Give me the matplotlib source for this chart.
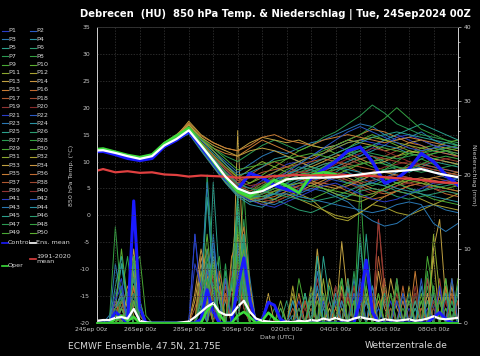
import numpy as np
import matplotlib.pyplot as plt
from matplotlib.lines import Line2D
from matplotlib.ticker import MultipleLocator

plt.rcParams['axes.unicode_minus'] = False

# forecast hours of the 24Sep2024 00Z run
hours_t = np.arange(0, 361, 12)
hours_p = np.arange(6, 361, 6)

tick_hours = [48, 96, 144, 192, 240, 288, 336]
tick_labels = ['26Sep 00z', '28Sep 00z', '30Sep 00z', '02Oct 00z',
               '04Oct 00z', '06Oct 00z', '08Oct 00z']

# 850 hPa temperature (deg C), 12-hourly
ens_mean_t = [12.0, 12.1, 11.6, 11.0, 10.5, 11.0, 13.0, 14.2, 15.8, 13.0,
              10.2, 7.2, 5.0, 4.1, 4.5, 5.6, 6.7, 6.9, 7.0, 7.0, 7.1,
              7.3, 7.6, 7.9, 8.1, 8.2, 8.4, 8.6, 8.0, 7.5, 7.1]
control_t = [11.8, 11.9, 11.3, 10.6, 10.2, 10.6, 12.8, 14.0, 15.6, 12.8,
             9.8, 6.8, 4.8, 7.8, 7.0, 5.6, 4.8, 4.3, 6.9, 8.5, 10.0,
             12.0, 12.7, 10.0, 6.0, 6.8, 8.6, 11.5, 10.0, 7.5, 5.6]
oper_t = [12.2, 12.4, 11.8, 11.2, 10.8, 11.3, 13.4, 14.8, 16.2, 13.2,
          10.0, 7.0, 4.5, 3.5, 5.0, 6.6, 5.5, 4.2, 7.5, 8.0, 7.6]
clim_t = [8.0, 8.6, 8.0, 8.2, 7.9, 8.0, 7.6, 7.5, 7.2, 7.4,
          7.3, 7.2, 7.0, 7.1, 7.1, 7.3, 7.4, 7.5, 7.4, 7.5, 7.4,
          7.5, 7.4, 7.3, 7.1, 6.9, 6.8, 6.6, 6.3, 6.1, 6.0]

members_t = [
    [12.1, 12.2, 11.5, 11.0, 10.4, 11.1, 13.2, 14.5, 16.0, 13.5, 11.0, 8.5, 6.0, 5.0, 6.5, 8.0, 9.5, 10.0, 11.0, 12.5, 13.0, 12.0, 11.0, 12.5, 14.0, 15.0, 14.0, 13.0, 12.0, 11.5, 11.0],
    [11.9, 12.0, 11.7, 11.1, 10.6, 10.9, 12.8, 14.0, 15.5, 12.5, 9.5, 6.5, 4.0, 3.0, 4.0, 5.5, 6.0, 5.0, 4.5, 6.0, 7.5, 8.0, 7.0, 6.0, 5.5, 7.0, 8.5, 9.0, 8.0, 7.0, 6.5],
    [12.2, 12.3, 11.6, 10.9, 10.5, 11.2, 13.3, 14.6, 16.3, 14.0, 12.0, 10.0, 8.0, 9.5, 11.0, 12.0, 11.5, 12.5, 13.5, 14.0, 15.0, 16.0, 17.0, 16.5, 15.0, 14.0, 14.5, 15.5, 14.0, 13.0, 12.5],
    [11.8, 11.9, 11.4, 10.8, 10.3, 10.8, 12.6, 13.9, 15.2, 12.0, 9.0, 6.0, 3.5, 2.0, 1.5, 3.0, 4.5, 5.5, 6.0, 5.0, 4.0, 3.5, 5.0, 6.5, 7.0, 6.0, 5.0, 4.5, 5.5, 6.0, 7.0],
    [12.0, 12.1, 11.6, 11.0, 10.5, 11.0, 13.0, 14.3, 15.9, 13.2, 10.5, 7.5, 5.0, 4.0, 5.0, 6.0, 7.5, 9.0, 8.5, 7.5, 8.0, 9.5, 10.5, 11.0, 10.0, 9.0, 8.0, 9.0, 10.0, 9.5, 9.0],
    [12.1, 12.0, 11.5, 11.1, 10.6, 11.1, 13.1, 14.2, 15.7, 12.8, 10.0, 7.0, 4.5, 3.5, 3.0, 4.0, 6.0, 7.5, 8.0, 9.0, 10.5, 11.5, 12.0, 11.0, 9.5, 8.5, 9.0, 10.5, 11.5, 12.0, 11.0],
    [12.3, 12.4, 11.8, 11.2, 10.7, 11.3, 13.5, 15.0, 17.0, 14.5, 12.5, 11.0, 10.0, 11.5, 13.0, 14.0, 13.0, 12.0, 13.0, 14.5, 15.5, 17.0, 18.5, 20.5, 19.0, 17.0, 16.0, 15.0, 14.5, 14.0, 13.5],
    [11.9, 12.0, 11.4, 10.9, 10.4, 10.9, 12.9, 14.1, 15.6, 12.6, 9.8, 6.8, 4.2, 3.2, 4.5, 6.5, 8.0, 7.0, 6.0, 7.5, 9.0, 8.0, 6.5, 5.5, 6.5, 8.0, 9.5, 10.5, 9.5, 8.0, 7.5],
    [12.0, 12.2, 11.6, 11.0, 10.5, 11.0, 13.1, 14.4, 16.1, 13.4, 10.8, 8.0, 5.5, 4.5, 6.0, 7.5, 7.0, 6.5, 7.5, 9.0, 10.0, 11.0, 10.0, 9.0, 8.5, 10.0, 11.5, 12.5, 13.0, 12.0, 11.0],
    [12.2, 12.1, 11.7, 11.1, 10.6, 11.2, 13.2, 14.3, 15.9, 13.0, 10.2, 7.2, 5.2, 6.0, 7.5, 9.0, 10.5, 12.0, 13.0, 12.5, 11.5, 12.5, 14.0, 15.0, 14.0, 13.0, 12.0, 11.5, 12.5, 13.5, 14.0],
    [12.1, 12.3, 11.8, 11.2, 10.7, 11.1, 13.0, 14.6, 16.8, 14.2, 12.0, 9.5, 7.0, 8.5, 10.0, 9.0, 8.0, 7.0, 6.0, 5.0, 4.0, 3.0, 2.5, 3.5, 5.0, 6.0, 7.0, 6.5, 5.5, 5.0, 4.5],
    [11.8, 11.9, 11.5, 10.9, 10.4, 10.8, 12.7, 14.0, 15.4, 12.3, 9.2, 6.2, 3.8, 2.5, 3.0, 4.5, 5.0, 4.0, 3.0, 1.0, -0.5, -1.0, 0.5, 2.0, 1.5, 0.5, 0.0, 1.0, 2.0, 3.0, 4.0],
    [12.0, 12.0, 11.6, 11.0, 10.5, 11.0, 13.0, 14.7, 17.5, 15.0, 13.5, 12.5, 12.0, 13.5, 14.5, 14.0, 13.5, 14.0, 13.0, 12.5, 13.0, 14.0, 13.5, 13.0, 12.0, 12.5, 13.5, 14.0, 13.0, 12.5, 12.0],
    [12.2, 12.2, 11.7, 11.1, 10.6, 11.1, 13.0, 14.3, 15.8, 13.0, 10.0, 7.0, 4.5, 3.0, 2.0, 2.5, 3.5, 4.5, 5.5, 6.5, 7.5, 7.0, 6.0, 5.0, 4.5, 5.5, 6.5, 7.0, 6.5, 6.0, 5.5],
    [12.0, 12.1, 11.5, 11.0, 10.5, 11.2, 13.4, 14.8, 17.0, 14.0, 12.5, 11.5, 11.0, 12.5, 14.0, 13.0, 12.0, 11.0, 10.5, 11.5, 13.0, 14.0, 15.0, 16.0, 15.5, 14.5, 13.5, 13.0, 12.0, 11.5, 11.0],
    [11.9, 12.0, 11.5, 10.9, 10.4, 10.9, 12.8, 14.0, 15.5, 12.5, 9.5, 6.5, 4.0, 3.5, 4.0, 5.0, 5.5, 6.0, 7.0, 8.0, 7.5, 6.5, 5.5, 4.5, 4.0, 4.5, 5.5, 6.0, 5.0, 4.0, 3.5],
    [12.1, 12.2, 11.6, 11.0, 10.5, 11.0, 13.1, 14.4, 16.0, 13.2, 10.5, 8.0, 6.0, 7.5, 9.0, 10.0, 9.0, 8.0, 8.5, 9.5, 10.0, 9.0, 8.0, 7.5, 7.0, 6.5, 6.0, 6.5, 7.0, 6.5, 6.0],
    [12.0, 12.1, 11.6, 11.0, 10.5, 11.0, 12.9, 14.2, 15.7, 12.9, 10.0, 7.5, 5.5, 4.5, 5.5, 7.0, 8.0, 8.5, 9.5, 10.5, 11.5, 10.5, 9.5, 10.0, 11.0, 12.0, 13.0, 12.0, 11.0, 10.5, 10.0],
    [12.2, 12.3, 11.7, 11.1, 10.6, 11.1, 13.2, 14.5, 16.2, 13.6, 11.0, 8.8, 6.5, 5.5, 6.0, 6.5, 5.5, 4.5, 5.0, 6.0, 7.0, 6.0, 5.0, 4.0, 4.5, 5.5, 6.0, 5.5, 5.0, 4.5, 4.0],
    [11.9, 12.0, 11.5, 11.0, 10.4, 10.9, 12.8, 14.1, 15.6, 12.6, 9.6, 6.6, 4.4, 3.8, 5.0, 6.0, 7.0, 6.5, 6.0, 7.0, 8.0, 7.5, 7.0, 8.0, 9.0, 9.5, 10.0, 9.0, 8.5, 8.0, 7.5],
    [12.0, 12.1, 11.6, 11.0, 10.5, 11.0, 13.0, 14.2, 15.8, 13.1, 10.3, 7.3, 4.8, 3.8, 4.8, 6.0, 7.5, 8.5, 10.0, 11.5, 12.5, 13.5, 14.0, 13.5, 13.0, 14.5, 15.0, 14.0, 13.0, 12.0, 11.5],
    [12.1, 12.2, 11.7, 11.1, 10.6, 11.0, 13.1, 14.3, 15.9, 13.0, 10.1, 7.1, 4.6, 3.6, 3.5, 4.0, 5.0, 6.0, 6.5, 7.0, 6.5, 6.0, 5.5, 6.0, 7.0, 8.0, 9.0, 9.5, 9.0, 8.5, 8.0],
    [11.9, 12.0, 11.5, 10.9, 10.4, 10.9, 12.9, 14.1, 15.6, 12.8, 9.8, 6.8, 4.3, 3.3, 2.5, 2.0, 3.0, 4.0, 5.0, 4.5, 3.5, 2.5, 0.5, -1.0, -2.0, -1.5, 0.0, 1.5, 2.0, 1.0, 0.5],
    [12.2, 12.3, 11.8, 11.2, 10.7, 11.2, 13.3, 14.6, 16.4, 14.0, 11.5, 9.5, 7.5, 8.0, 9.0, 10.5, 11.0, 10.0, 9.0, 8.5, 9.0, 10.0, 11.0, 12.0, 13.0, 12.5, 11.5, 11.0, 10.5, 10.0, 9.5],
    [12.0, 12.0, 11.6, 11.0, 10.5, 11.0, 13.0, 14.2, 15.8, 13.0, 10.2, 7.2, 4.7, 3.7, 4.5, 5.5, 6.5, 7.5, 8.5, 9.5, 10.0, 11.0, 12.0, 13.0, 14.0, 15.0, 16.0, 17.0, 16.0, 15.0, 14.0],
    [12.1, 12.2, 11.6, 11.0, 10.5, 11.1, 13.1, 14.4, 16.0, 13.3, 10.6, 7.8, 5.2, 4.2, 3.5, 3.0, 2.0, 1.0, 0.5, 1.5, 2.5, 3.5, 4.5, 5.0, 4.5, 3.5, 3.0, 3.5, 4.0, 4.5, 4.0],
    [11.8, 11.9, 11.4, 10.8, 10.3, 10.8, 12.7, 14.0, 15.4, 12.4, 9.4, 6.4, 4.0, 3.5, 4.5, 6.0, 7.0, 8.0, 9.0, 8.0, 7.0, 6.0, 6.5, 7.5, 8.5, 9.0, 8.5, 8.0, 8.5, 9.0, 9.5],
    [12.0, 12.1, 11.5, 11.0, 10.5, 11.0, 13.0, 14.3, 15.9, 13.2, 10.4, 7.6, 5.1, 4.1, 5.5, 7.0, 8.5, 9.5, 11.0, 12.0, 13.0, 14.0, 15.0, 16.5, 18.0, 20.0, 18.0, 16.0, 15.0, 14.0, 13.0],
    [12.2, 12.2, 11.7, 11.1, 10.6, 11.1, 13.1, 14.3, 15.8, 12.9, 9.9, 6.9, 4.4, 3.4, 4.0, 5.0, 4.5, 3.5, 3.0, 4.0, 5.0, 6.0, 7.0, 7.5, 7.0, 6.0, 5.0, 4.0, 3.0, 2.5, 2.0],
    [12.0, 12.1, 11.6, 11.0, 10.5, 11.0, 13.0, 14.2, 15.7, 12.9, 10.1, 7.0, 4.5, 3.5, 4.5, 6.0, 7.0, 8.0, 7.5, 7.0, 7.5, 8.5, 9.5, 10.0, 10.5, 11.0, 11.5, 12.0, 12.5, 12.0, 11.5],
    [12.1, 12.2, 11.7, 11.1, 10.6, 11.2, 13.2, 14.5, 16.2, 13.6, 11.2, 9.0, 7.0, 6.0, 7.0, 8.0, 9.0, 10.0, 11.0, 11.5, 12.5, 13.5, 14.0, 14.5, 14.0, 13.5, 13.0, 12.5, 12.0, 12.5, 13.0],
    [11.9, 12.0, 11.5, 10.9, 10.4, 10.9, 12.8, 14.1, 15.6, 12.7, 9.7, 6.7, 4.2, 3.0, 2.5, 3.0, 4.0, 3.0, 2.0, 1.0, 0.0, -0.5, 0.5, 2.0, 3.5, 4.5, 4.0, 3.0, 2.0, 1.5, 1.0],
    [12.0, 12.1, 11.6, 11.0, 10.5, 11.1, 13.3, 14.8, 16.8, 14.5, 13.0, 12.0, 11.0, 12.0, 12.5, 12.0, 11.0, 10.0, 9.0, 10.0, 11.0, 11.5, 10.5, 9.5, 10.0, 11.0, 12.0, 11.5, 10.5, 10.0, 9.5],
    [12.2, 12.2, 11.6, 11.0, 10.5, 11.0, 13.0, 14.3, 15.9, 13.1, 10.3, 7.3, 4.8, 3.8, 4.5, 5.5, 6.5, 7.0, 6.5, 5.5, 5.0, 5.5, 6.5, 7.5, 8.0, 7.5, 7.0, 6.5, 7.0, 7.5, 8.0],
    [12.1, 12.3, 11.8, 11.2, 10.7, 11.3, 13.5, 15.0, 17.2, 14.8, 13.5, 12.5, 12.0, 13.0, 14.5, 15.0, 14.0, 13.5, 13.0, 14.0, 14.5, 15.0, 14.5, 14.0, 13.5, 14.0, 14.5, 14.0, 13.5, 13.0, 12.5],
    [11.9, 12.0, 11.5, 10.9, 10.4, 10.9, 12.9, 14.1, 15.6, 12.7, 9.7, 6.7, 4.2, 3.2, 3.0, 3.5, 4.5, 5.5, 6.0, 6.0, 5.5, 4.5, 3.5, 3.0, 3.5, 4.5, 5.5, 6.0, 5.5, 5.0, 4.5],
    [12.0, 12.1, 11.6, 11.0, 10.5, 11.0, 13.0, 14.4, 16.2, 13.5, 11.0, 8.5, 6.5, 7.0, 8.0, 8.5, 9.0, 9.5, 10.0, 10.5, 10.0, 9.5, 9.0, 8.5, 8.0, 8.5, 9.0, 9.5, 9.0, 8.5, 8.0],
    [12.1, 12.2, 11.7, 11.1, 10.6, 11.1, 13.1, 14.2, 15.7, 12.8, 9.8, 6.8, 4.3, 3.3, 4.0, 4.5, 5.0, 5.5, 6.5, 7.5, 8.5, 9.5, 10.5, 11.0, 10.5, 10.0, 9.5, 9.0, 8.5, 8.0, 7.5],
    [12.0, 12.0, 11.5, 10.9, 10.4, 10.9, 12.9, 14.2, 15.8, 13.0, 10.2, 7.5, 5.5, 5.0, 6.0, 7.0, 7.5, 8.0, 8.0, 7.5, 7.0, 6.5, 6.0, 6.5, 7.0, 7.5, 7.0, 6.5, 6.0, 6.0, 5.5],
    [12.2, 12.3, 11.7, 11.1, 10.6, 11.2, 13.2, 14.4, 16.0, 13.2, 10.4, 7.4, 4.9, 3.9, 3.0, 2.5, 3.5, 5.0, 6.5, 8.0, 9.5, 10.5, 11.5, 12.5, 12.0, 11.0, 10.0, 9.5, 10.0, 10.5, 11.0],
    [11.9, 12.0, 11.5, 11.0, 10.4, 10.9, 12.8, 14.0, 15.5, 12.5, 9.5, 6.5, 4.0, 2.8, 2.0, 1.5, 2.5, 3.5, 4.5, 5.5, 6.0, 5.0, 4.0, 3.0, 2.5, 3.0, 4.0, 5.0, 6.0, 6.5, 7.0],
    [12.0, 12.1, 11.6, 11.0, 10.5, 11.0, 13.0, 14.3, 15.9, 13.1, 10.3, 7.3, 4.8, 3.8, 5.0, 6.5, 8.0, 9.5, 11.0, 12.5, 14.0, 15.5, 16.5, 15.5, 14.5, 13.5, 12.5, 12.0, 12.5, 13.0, 12.5],
    [12.1, 12.2, 11.6, 11.1, 10.6, 11.1, 13.1, 14.3, 15.8, 13.0, 10.0, 7.0, 4.5, 3.5, 3.5, 4.0, 4.0, 3.5, 3.0, 2.5, 2.0, 1.5, 1.0, 0.5, 1.0, 2.0, 2.5, 2.0, -1.5, -3.0, -1.5],
    [11.8, 11.9, 11.4, 10.8, 10.3, 10.8, 12.7, 13.9, 15.3, 12.3, 9.3, 6.3, 3.8, 2.5, 3.0, 4.0, 5.5, 6.5, 7.5, 8.5, 9.0, 8.5, 8.0, 7.0, 6.0, 5.0, 4.5, 4.0, 3.5, 3.0, 2.5],
    [12.0, 12.1, 11.6, 11.0, 10.5, 11.0, 13.0, 14.2, 15.8, 13.0, 10.2, 7.2, 4.8, 4.0, 5.0, 6.5, 7.5, 8.5, 9.5, 10.5, 11.5, 12.5, 13.5, 14.5, 15.0, 15.5, 15.0, 14.5, 14.0, 13.5, 13.0],
    [12.2, 12.3, 11.7, 11.2, 10.7, 11.2, 13.2, 14.5, 16.1, 13.4, 10.6, 8.0, 5.8, 5.0, 4.5, 4.0, 3.5, 3.0, 2.5, 3.0, 3.5, 4.5, 5.5, 6.0, 5.5, 4.5, 4.0, 4.5, 5.0, 5.5, 6.0],
    [12.0, 12.0, 11.5, 10.9, 10.4, 10.9, 12.9, 14.1, 15.7, 12.8, 9.8, 6.8, 4.3, 3.3, 4.0, 5.0, 6.0, 7.0, 8.0, 9.0, 10.0, 11.0, 12.0, 11.5, 11.0, 10.5, 11.0, 11.5, 12.0, 12.5, 13.0],
    [12.1, 12.2, 11.6, 11.0, 10.5, 11.1, 13.1, 14.3, 15.9, 13.1, 10.3, 7.3, 4.8, 3.8, 4.5, 5.5, 6.5, 7.0, 7.5, 8.0, 8.5, 9.0, 9.5, 10.0, 9.5, 9.0, 8.5, 9.5, 10.5, 11.0, 10.5],
    [12.0, 12.1, 11.6, 11.0, 10.5, 11.0, 13.0, 14.5, 16.5, 14.2, 12.5, 10.5, 8.5, 9.0, 9.5, 10.0, 10.5, 11.0, 11.5, 11.0, 10.5, 11.5, 12.5, 13.0, 12.5, 12.0, 11.5, 11.0, 11.5, 12.0, 12.5],
    [11.9, 12.0, 11.5, 10.9, 10.4, 10.9, 12.8, 14.0, 15.5, 12.6, 9.6, 6.6, 4.1, 3.1, 3.5, 4.5, 5.5, 6.0, 5.5, 5.0, 4.5, 4.0, 3.5, 4.0, 5.0, 6.0, 6.5, 6.0, 5.5, 5.0, 5.5],
]

# 6-hourly precipitation (mm), ens. mean as full series
ens_mean_p = [0.3, 0.4, 0.4, 0.7, 0.8, 0.6, 1.9, 0.3, 0.1, 0.0,
              0.0, 0.0, 0.0, 0.0, 0.1, 0.2, 0.8, 1.5, 2.2, 2.7,
              1.5, 1.1, 1.1, 2.2, 3.0, 1.5, 0.6, 0.3, 0.2, 0.1,
              0.1, 0.2, 0.1, 0.3, 0.2, 0.4, 0.3, 0.6, 0.4, 0.7,
              0.4, 0.3, 0.6, 0.8, 0.6, 0.5, 0.3, 0.5, 0.4, 0.3,
              0.4, 0.5, 0.3, 0.4, 0.6, 0.9, 0.6, 0.5, 0.6, 0.7]

# other runs: (hour, mm) for the non-zero 6h steps
control_p = [(24, 1.5), (30, 0.8), (42, 16.5), (48, 2.0), (108, 0.5), (114, 4.5),
             (120, 1.5), (144, 5.0), (150, 8.8), (156, 3.0), (168, 0.5), (174, 2.8),
             (180, 2.4), (186, 0.5), (264, 3.0), (270, 8.5), (276, 1.5), (336, 0.8),
             (342, 1.4), (348, 0.5)]
oper_p = [(24, 0.5), (30, 1.0), (36, 0.3), (42, 0.8), (114, 1.7), (120, 2.7),
          (126, 1.2), (144, 1.0), (150, 1.5), (156, 0.8), (168, 0.3), (174, 1.4),
          (180, 0.6)]

members_p = [
    [(24, 1), (30, 2), (42, 4), (108, 3), (114, 6), (120, 4), (144, 8), (150, 5), (204, 2), (228, 4), (270, 3), (312, 2), (342, 5)],
    [(30, 3), (36, 1), (42, 2), (102, 12), (108, 4), (138, 6), (144, 3), (150, 7), (198, 1), (240, 5), (246, 2), (300, 3), (330, 6), (336, 2)],
    [(18, 1), (24, 3), (30, 8), (36, 2), (114, 2), (120, 10), (126, 4), (150, 12), (156, 6), (216, 3), (258, 4), (264, 2), (318, 4), (354, 3)],
    [(36, 2), (42, 6), (48, 1), (108, 2), (114, 5), (132, 3), (144, 6), (150, 4), (186, 2), (222, 9), (228, 3), (276, 5), (282, 2), (324, 3)],
    [(24, 2), (30, 8), (36, 3), (120, 19), (126, 6), (138, 5), (144, 9), (150, 3), (210, 4), (234, 2), (264, 6), (306, 3), (348, 4)],
    [(24, 1), (42, 3), (114, 8), (120, 5), (132, 7), (150, 10), (156, 4), (192, 3), (228, 2), (252, 5), (288, 4), (336, 3), (360, 4)],
    [(30, 4), (36, 9), (42, 2), (108, 2), (114, 20), (120, 8), (144, 15), (150, 6), (180, 2), (222, 5), (264, 12), (270, 3), (318, 2), (342, 4)],
    [(24, 13), (30, 3), (42, 5), (48, 1), (120, 6), (126, 9), (144, 4), (150, 18), (156, 5), (240, 3), (246, 6), (294, 2), (330, 5), (354, 2)],
    [(36, 2), (42, 8), (48, 9), (54, 1), (114, 3), (120, 7), (144, 5), (150, 3), (204, 6), (210, 2), (258, 3), (300, 5), (336, 3)],
    [(24, 2), (30, 4), (108, 4), (114, 12), (120, 3), (138, 8), (144, 16), (150, 4), (228, 3), (270, 7), (276, 2), (324, 4), (348, 2)],
    [(30, 1), (42, 5), (120, 4), (126, 6), (144, 9), (150, 2), (186, 3), (216, 5), (246, 2), (282, 4), (330, 3), (354, 6)],
    [(24, 3), (36, 4), (42, 1), (114, 5), (120, 3), (132, 4), (144, 7), (150, 9), (198, 4), (234, 6), (240, 2), (276, 3), (312, 5), (336, 9)],
    [(36, 3), (42, 10), (48, 2), (102, 3), (108, 8), (114, 4), (144, 26), (150, 7), (174, 4), (246, 11), (252, 3), (294, 6), (300, 2), (336, 10), (342, 14), (348, 3)],
    [(24, 1), (42, 7), (108, 9), (114, 5), (132, 6), (150, 8), (156, 3), (222, 4), (258, 3), (288, 6), (324, 2), (354, 5)],
    [(30, 2), (36, 5), (42, 2), (108, 6), (114, 10), (120, 5), (138, 9), (144, 11), (150, 5), (210, 3), (240, 5), (282, 3), (318, 7), (360, 3)],
    [(42, 3), (48, 2), (114, 4), (126, 7), (132, 3), (144, 12), (150, 6), (216, 2), (252, 4), (306, 3), (342, 4)],
    [(24, 2), (30, 1), (102, 2), (108, 5), (120, 9), (126, 3), (150, 10), (156, 4), (198, 2), (234, 3), (282, 14), (288, 4), (330, 3), (348, 5)],
    [(36, 1), (42, 4), (114, 3), (120, 6), (132, 5), (144, 4), (150, 7), (228, 3), (264, 5), (300, 4), (342, 6), (354, 2)],
    [(30, 3), (42, 2), (108, 3), (120, 5), (144, 6), (150, 2), (222, 6), (228, 2), (276, 4), (312, 3), (336, 2)],
    [(24, 2), (42, 5), (114, 6), (120, 4), (138, 7), (150, 6), (210, 2), (246, 4), (270, 3), (318, 5), (348, 3)],
    [(24, 4), (30, 6), (42, 3), (102, 12), (108, 3), (120, 6), (144, 8), (150, 5), (204, 3), (264, 4), (294, 3), (330, 2), (360, 5)],
    [(30, 2), (36, 3), (114, 7), (120, 11), (126, 4), (150, 9), (156, 3), (216, 4), (240, 3), (282, 2), (324, 6)],
    [(24, 8), (30, 3), (42, 2), (108, 5), (114, 19), (120, 5), (144, 10), (150, 4), (222, 7), (228, 2), (258, 6), (306, 4), (342, 3)],
    [(36, 2), (42, 6), (48, 3), (120, 8), (126, 4), (144, 6), (150, 12), (156, 4), (198, 3), (252, 5), (288, 3), (330, 4), (354, 2)],
    [(24, 2), (30, 3), (42, 9), (48, 2), (108, 3), (114, 17), (120, 6), (144, 15), (150, 8), (228, 9), (234, 3), (270, 12), (276, 3), (318, 2), (348, 6)],
    [(24, 1), (36, 2), (114, 4), (120, 7), (138, 5), (150, 11), (156, 3), (204, 2), (246, 6), (264, 3), (312, 4), (336, 5)],
    [(30, 5), (42, 4), (108, 2), (120, 5), (132, 8), (144, 5), (150, 14), (156, 4), (216, 3), (258, 7), (300, 3), (342, 3)],
    [(24, 3), (42, 7), (48, 1), (114, 9), (120, 3), (144, 9), (150, 6), (222, 3), (264, 19), (270, 5), (306, 2), (330, 7), (354, 3)],
    [(36, 1), (42, 3), (108, 4), (120, 6), (144, 18), (150, 5), (186, 2), (240, 4), (276, 3), (318, 4), (348, 2)],
    [(24, 2), (30, 10), (36, 3), (114, 5), (120, 8), (138, 6), (144, 8), (150, 3), (210, 4), (252, 3), (288, 5), (324, 3), (360, 6)],
    [(30, 3), (42, 7), (48, 2), (108, 7), (114, 3), (132, 4), (150, 9), (156, 4), (228, 6), (246, 3), (294, 4), (336, 12), (342, 4)],
    [(24, 1), (42, 2), (114, 6), (120, 9), (126, 3), (144, 7), (150, 4), (198, 5), (234, 2), (270, 4), (312, 3), (354, 4)],
    [(36, 4), (42, 8), (48, 2), (108, 3), (120, 4), (144, 12), (150, 8), (222, 10), (228, 3), (264, 3), (300, 6), (336, 4)],
    [(24, 2), (30, 4), (102, 4), (108, 10), (114, 6), (138, 5), (150, 6), (216, 3), (246, 5), (282, 7), (288, 2), (330, 4)],
    [(30, 2), (42, 5), (114, 7), (120, 4), (144, 9), (150, 13), (156, 5), (204, 4), (252, 6), (276, 3), (318, 3), (348, 5)],
    [(24, 3), (36, 2), (114, 3), (126, 5), (144, 5), (150, 8), (240, 2), (264, 4), (306, 5), (342, 3)],
    [(42, 3), (48, 1), (108, 5), (120, 7), (132, 4), (144, 6), (150, 4), (228, 4), (270, 3), (282, 9), (288, 3), (324, 2), (354, 4)],
    [(24, 1), (30, 3), (114, 5), (120, 3), (144, 8), (150, 6), (210, 3), (258, 5), (294, 2), (330, 6), (360, 3)],
    [(30, 2), (42, 4), (108, 4), (114, 8), (120, 3), (150, 7), (156, 2), (222, 3), (252, 4), (282, 14), (288, 5), (336, 3)],
    [(24, 2), (42, 3), (114, 4), (120, 6), (138, 4), (144, 5), (150, 9), (204, 2), (240, 5), (270, 8), (276, 2), (318, 4), (348, 3)],
    [(24, 3), (30, 5), (42, 2), (102, 8), (108, 5), (120, 3), (144, 7), (150, 5), (216, 4), (264, 6), (300, 3), (342, 5)],
    [(36, 2), (42, 4), (114, 7), (120, 5), (132, 6), (150, 10), (156, 3), (228, 3), (258, 4), (306, 4), (354, 6)],
    [(24, 2), (30, 4), (42, 8), (108, 3), (120, 12), (126, 3), (144, 6), (150, 8), (222, 5), (246, 3), (276, 5), (312, 3), (336, 4)],
    [(30, 2), (42, 3), (114, 5), (120, 9), (144, 11), (150, 4), (198, 3), (240, 4), (270, 3), (324, 5), (354, 2)],
    [(24, 5), (30, 9), (36, 2), (114, 8), (120, 4), (138, 5), (144, 17), (150, 6), (210, 4), (222, 9), (264, 11), (270, 3), (318, 3), (348, 4)],
    [(36, 2), (42, 6), (108, 3), (114, 10), (120, 4), (150, 12), (156, 4), (216, 3), (252, 6), (288, 4), (330, 3), (360, 5)],
    [(24, 1), (42, 4), (114, 5), (120, 7), (138, 6), (150, 8), (204, 2), (234, 5), (264, 4), (300, 6), (342, 3)],
    [(30, 3), (36, 4), (108, 4), (114, 6), (144, 9), (150, 3), (228, 4), (258, 3), (294, 4), (336, 5), (354, 2)],
    [(24, 2), (42, 9), (48, 3), (114, 3), (120, 8), (144, 13), (150, 5), (222, 3), (246, 6), (282, 4), (330, 9), (336, 4)],
    [(30, 2), (42, 3), (120, 5), (126, 4), (144, 6), (150, 10), (216, 4), (270, 5), (312, 3), (348, 6)],
]

member_colors = ['#2a3cc8', '#2a5ac4', '#2a78b4', '#2a92a4', '#2aa08c', '#2a9c70',
                 '#2a9a52', '#34a040', '#48a834', '#5cae30', '#8ca82e', '#a8a030',
                 '#c0a040', '#c89440', '#c87c34', '#c06a30', '#b05830', '#a04830',
                 '#923434', '#882a2a']


def precip_series(events, hours):
    s = np.zeros(len(hours))
    for h, v in events:
        s[list(hours).index(h)] = v
    return s


fig = plt.figure(figsize=(4.8, 3.56), dpi=100, facecolor='black')
ax = fig.add_axes([97 / 480, 33 / 356, 361 / 480, 296 / 356])
ax2 = ax.twinx()
ax.set_zorder(ax2.get_zorder() + 1)
ax.patch.set_visible(False)
ax2.patch.set_facecolor('black')

# precipitation on right axis
for i, ev in enumerate(members_p):
    ax2.plot(hours_p, precip_series(ev, hours_p), color=member_colors[i % 20], lw=0.7)
ax2.plot(hours_p, precip_series(control_p, hours_p), color='#1a1aff', lw=2.2)
oper_hours = hours_p[hours_p <= 240]
ax2.plot(oper_hours, precip_series(oper_p, oper_hours), color='#3cdc3c', lw=1.8)
ax2.plot(hours_p, ens_mean_p, color='white', lw=1.6)

# temperature on left axis
for i, row in enumerate(members_t):
    ax.plot(hours_t, row, color=member_colors[i % 20], lw=0.7)
ax.plot(hours_t, control_t, color='#1a1aff', lw=2.4)
ax.plot(hours_t[:len(oper_t)], oper_t, color='#3cdc3c', lw=2.0)
ax.plot(hours_t, clim_t, color='#e04040', lw=1.6)
ax.plot(hours_t, ens_mean_t, color='white', lw=1.6)

ax.set_xlim(6, 360)
ax.set_ylim(-20, 35)
ax2.set_ylim(0, 40)

ax.set_yticks(np.arange(-20, 36, 5))
ax.set_xticks(tick_hours)
ax.set_xticklabels(tick_labels)
ax.xaxis.set_minor_locator(MultipleLocator(24))
ax.grid(True, which='both', color='#3a3a3a', ls=(0, (2, 2)), lw=0.5)
ax.text(0, -0.012, '24Sep 00z', transform=ax.get_xaxis_transform(), ha='center', va='top',
        fontsize=4.4, color='#c8c8c8', clip_on=False)

ax2.set_yticks(np.arange(0, 41, 10))
ax2.yaxis.set_minor_locator(MultipleLocator(2))

for a in (ax, ax2):
    a.tick_params(colors='#c8c8c8', labelsize=4.4, length=2, width=0.5, pad=2)
    a.tick_params(which='minor', length=1.5, width=0.5, colors='#c8c8c8')
    for s in a.spines.values():
        s.set_color('#d0d0d0')
        s.set_linewidth(0.6)
    a.spines['top'].set_color('#303030')
    a.spines['bottom'].set_color('#30c030')
    a.spines['bottom'].set_linewidth(1.2)
ax.tick_params(axis='x', which='minor', length=0)
ax.tick_params(axis='x', length=0, pad=3)
ax.tick_params(axis='y', length=0, pad=5)

ax.set_ylabel('850 hPa Temp. (°C)', color='#c8c8c8', fontsize=4.6, labelpad=4)
ax2.set_ylabel('Niederschlag (mm)', color='#c8c8c8', fontsize=4.6, rotation=270, va='center')
ax2.yaxis.set_label_coords(1.044, 0.5)
ax.set_xlabel('Date (UTC)', color='#c8c8c8', fontsize=4.6, labelpad=2)

fig.text(275 / 480, 1 - 15 / 356, 'Debrecen  (HU)  850 hPa Temp. & Niederschlag | Tue, 24Sep2024 00Z',
         ha='center', va='center', color='white', fontsize=7.2, fontweight='bold')
fig.text(68 / 480, 1 - 346 / 356, 'ECMWF Ensemble, 47.5N, 21.75E', ha='left', va='center',
         color='#d8d8d8', fontsize=6.6)
fig.text(448 / 480, 1 - 346 / 356, 'Wetterzentrale.de', ha='right', va='center',
         color='#d8d8d8', fontsize=6.6)

# legend, two columns on the left
def legend_item(x, y, color, label, lw=0.8):
    fig.add_artist(Line2D([x / 480, (x + 6) / 480], [1 - y / 356, 1 - y / 356],
                          transform=fig.transFigure, color=color, lw=lw))
    fig.text((x + 6) / 480, 1 - y / 356, label, ha='left', va='center',
             color='#d8d8d8', fontsize=4.6, linespacing=0.9)


for i in range(50):
    col = i % 2
    row = i // 2
    legend_item(2 + col * 28, 31 + row * 8.4, member_colors[i % 20], 'P%d' % (i + 1))
legend_item(2, 243, '#1a1aff', 'Control', lw=1.2)
legend_item(30, 243, 'white', 'Ens. mean', lw=1.2)
legend_item(30, 259, '#e04040', '1991-2020\nmean', lw=1.2)
legend_item(2, 266, '#3cdc3c', 'Oper', lw=1.2)

fig.savefig('out.png', dpi=100, facecolor='black')
